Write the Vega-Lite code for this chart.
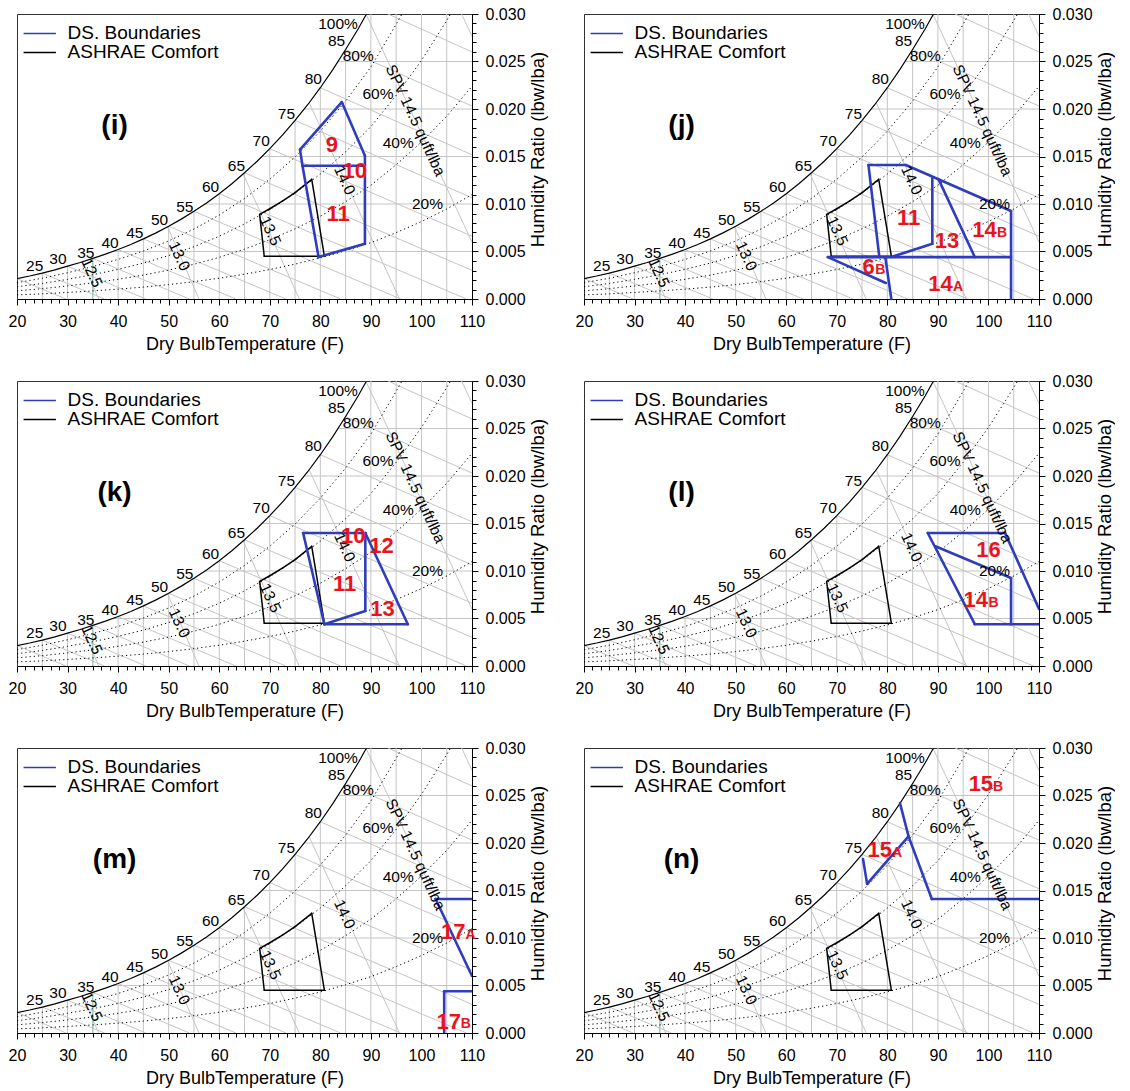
{
"$schema":"https://vega.github.io/schema/vega-lite/v6.json",
"padding":{"left":7,"top":5,"right":0,"bottom":0},
"config":{"font":"Liberation Sans","view":{"stroke":"#333","strokeWidth":1},
"axis":{"labelFontSize":16,"titleFontWeight":"normal","labelColor":"#000","titleColor":"#000","domainColor":"#000","tickColor":"#000","labelFont":"Liberation Sans","titleFont":"Liberation Sans","labelOverlap":false,"labelFlush":false},
"axisX":{"titleFontSize":18,"labelPadding":8,"titlePadding":6},
"axisY":{"titleFontSize":18.5,"labelPadding":7,"titlePadding":3}},
"datasets":{
"grid":[
{"T":25,"W":0,"T2":25,"W2":0.002731},{"T":30,"W":0,"T2":30,"W2":0.003454},{"T":40,"W":0,"T2":40,"W2":0.005213},{"T":45,"W":0,"T2":45,"W2":0.006328},{"T":50,"W":0,"T2":50,"W2":0.007658},{"T":55,"W":0,"T2":55,"W2":0.00923},{"T":60,"W":0,"T2":60,"W2":0.011087},{"T":65,"W":0,"T2":65,"W2":0.01329},{"T":70,"W":0,"T2":70,"W2":0.015832},{"T":75,"W":0,"T2":75,"W2":0.0188},{"T":80,"W":0,"T2":80,"W2":0.02224},{"T":85,"W":0,"T2":85,"W2":0.02626},{"T":90,"W":0,"T2":90,"W2":0.03},{"T":95,"W":0,"T2":95,"W2":0.03},{"T":100,"W":0,"T2":100,"W2":0.03},{"T":105,"W":0,"T2":105,"W2":0.03},
{"T":38.95,"W":0.005,"T2":110,"W2":0.005},{"T":57.19,"W":0.01,"T2":110,"W2":0.01},{"T":68.46,"W":0.015,"T2":110,"W2":0.015},{"T":76.84,"W":0.02,"T2":110,"W2":0.02},{"T":83.52,"W":0.025,"T2":110,"W2":0.025},
{"T":20,"W":0.002152,"T2":29.7,"W2":0},{"T":25,"W":0.002731,"T2":37.3,"W2":0},{"T":30,"W":0.003454,"T2":45.5,"W2":0},{"T":35,"W":0.004275,"T2":54.1,"W2":0},{"T":40,"W":0.005213,"T2":63.3,"W2":0},{"T":45,"W":0.006328,"T2":73.2,"W2":0},{"T":50,"W":0.007658,"T2":84.0,"W2":0},{"T":55,"W":0.00923,"T2":95.9,"W2":0},{"T":60,"W":0.011087,"T2":108.9,"W2":0},{"T":65,"W":0.01329,"T2":110,"W2":0.003014},{"T":70,"W":0.015832,"T2":110,"W2":0.006613},{"T":75,"W":0.0188,"T2":110,"W2":0.010652},{"T":80,"W":0.02224,"T2":110,"W2":0.01518},{"T":85,"W":0.02626,"T2":110,"W2":0.020306},{"T":93.4,"W":0.03,"T2":110,"W2":0.026006},
{"T":33.0,"W":0.00395,"T2":36.15,"W2":0},{"T":49.8,"W":0.00758,"T2":56.0,"W2":0},{"T":64.73,"W":0.01317,"T2":75.83,"W2":0},{"T":77.8,"W":0.02065,"T2":95.66,"W2":0},{"T":89.0,"W":0.03,"T2":110,"W2":0.00599},{"T":107.95,"W":0.03,"T2":110,"W2":0.02765}
],
"teal":[{"T":35,"W":0,"T2":35,"W2":0.004275}],
"sat":[{"T":20,"W":0.002152},{"T":22.5,"W":0.002424},{"T":25,"W":0.002731},{"T":27.5,"W":0.003071},{"T":30,"W":0.003454},{"T":32.5,"W":0.003843},{"T":35,"W":0.004275},{"T":37.5,"W":0.004721},{"T":40,"W":0.005213},{"T":42.5,"W":0.005743},{"T":45,"W":0.006328},{"T":47.5,"W":0.006961},{"T":50,"W":0.007658},{"T":52.5,"W":0.008407},{"T":55,"W":0.00923},{"T":57.5,"W":0.010116},{"T":60,"W":0.011087},{"T":62.5,"W":0.012139},{"T":65,"W":0.01329},{"T":67.5,"W":0.014505},{"T":70,"W":0.015832},{"T":72.5,"W":0.017252},{"T":75,"W":0.0188},{"T":77.5,"W":0.020448},{"T":80,"W":0.02224},{"T":82.5,"W":0.024167},{"T":85,"W":0.02626},{"T":87.5,"W":0.028453},{"T":89.13,"W":0.03}],
"rh":[
{"c":80,"T":20,"W":0.001721},{"c":80,"T":25,"W":0.002183},{"c":80,"T":30,"W":0.00276},{"c":80,"T":35,"W":0.003416},{"c":80,"T":40,"W":0.004164},{"c":80,"T":45,"W":0.005052},{"c":80,"T":50,"W":0.006111},{"c":80,"T":55,"W":0.007362},{"c":80,"T":60,"W":0.008838},{"c":80,"T":65,"W":0.010587},{"c":80,"T":70,"W":0.012601},{"c":80,"T":75,"W":0.01495},{"c":80,"T":80,"W":0.017666},{"c":80,"T":85,"W":0.020833},{"c":80,"T":90,"W":0.024422},{"c":80,"T":95,"W":0.028921},{"c":80,"T":96.15,"W":0.03},
{"c":60,"T":20,"W":0.001289},{"c":60,"T":25,"W":0.001636},{"c":60,"T":30,"W":0.002068},{"c":60,"T":35,"W":0.002558},{"c":60,"T":40,"W":0.003118},{"c":60,"T":45,"W":0.003782},{"c":60,"T":50,"W":0.004572},{"c":60,"T":55,"W":0.005505},{"c":60,"T":60,"W":0.006605},{"c":60,"T":65,"W":0.007907},{"c":60,"T":70,"W":0.009404},{"c":60,"T":75,"W":0.011145},{"c":60,"T":80,"W":0.013156},{"c":60,"T":85,"W":0.015495},{"c":60,"T":90,"W":0.018139},{"c":60,"T":95,"W":0.021442},{"c":60,"T":100,"W":0.025106},{"c":60,"T":105,"W":0.029309},{"c":60,"T":105.76,"W":0.03},
{"c":40,"T":20,"W":0.000859},{"c":40,"T":25,"W":0.001089},{"c":40,"T":30,"W":0.001377},{"c":40,"T":35,"W":0.001703},{"c":40,"T":40,"W":0.002075},{"c":40,"T":45,"W":0.002516},{"c":40,"T":50,"W":0.003041},{"c":40,"T":55,"W":0.003659},{"c":40,"T":60,"W":0.004388},{"c":40,"T":65,"W":0.005249},{"c":40,"T":70,"W":0.006238},{"c":40,"T":75,"W":0.007386},{"c":40,"T":80,"W":0.008709},{"c":40,"T":85,"W":0.010245},{"c":40,"T":90,"W":0.011976},{"c":40,"T":95,"W":0.014132},{"c":40,"T":100,"W":0.016516},{"c":40,"T":105,"W":0.019237},{"c":40,"T":110,"W":0.022385},
{"c":20,"T":20,"W":0.000429},{"c":20,"T":25,"W":0.000544},{"c":20,"T":30,"W":0.000688},{"c":20,"T":35,"W":0.00085},{"c":20,"T":40,"W":0.001036},{"c":20,"T":45,"W":0.001255},{"c":20,"T":50,"W":0.001517},{"c":20,"T":55,"W":0.001824},{"c":20,"T":60,"W":0.002186},{"c":20,"T":65,"W":0.002613},{"c":20,"T":70,"W":0.003103},{"c":20,"T":75,"W":0.003671},{"c":20,"T":80,"W":0.004324},{"c":20,"T":85,"W":0.005081},{"c":20,"T":90,"W":0.005931},{"c":20,"T":95,"W":0.006987},{"c":20,"T":100,"W":0.00815},{"c":20,"T":105,"W":0.009472},{"c":20,"T":110,"W":0.010995}
],
"comfort":[{"T":68.0,"W":0.0089,"T2":68.9,"W2":0.0045},{"T":68.9,"W":0.0045,"T2":80.8,"W2":0.0045},{"T":80.8,"W":0.0045,"T2":78.3,"W2":0.0126},{"T":78.3,"W":0.0126,"T2":75,"W2":0.0112},{"T":75,"W":0.0112,"T2":72.5,"W2":0.0103},{"T":72.5,"W":0.0103,"T2":70,"W2":0.0095},{"T":70,"W":0.0095,"T2":68.0,"W2":0.0089}],
"lab":[{"t":"25","T":23.5,"W":0.00345},{"t":"30","T":28.1,"W":0.00416},{"t":"35","T":33.6,"W":0.00479},{"t":"40","T":38.4,"W":0.00585},{"t":"45","T":43.3,"W":0.00698},{"t":"50","T":48.2,"W":0.00828},{"t":"55","T":53.2,"W":0.00973},{"t":"60","T":58.3,"W":0.01174},{"t":"65","T":63.4,"W":0.01403},{"t":"70","T":68.3,"W":0.01666},{"t":"75","T":73.3,"W":0.01947},{"t":"80","T":78.6,"W":0.02316},{"t":"85","T":83.2,"W":0.0272},{"t":"100%","T":83.5,"W":0.02895},{"t":"80%","T":87.5,"W":0.0256},{"t":"60%","T":91.4,"W":0.02158},{"t":"40%","T":95.4,"W":0.01638},{"t":"20%","T":101.2,"W":0.00998}],
"vlab":[{"t":"12.5","T":34.8,"W":0.00275},{"t":"13.0","T":52.1,"W":0.00451},{"t":"13.5","T":70.1,"W":0.00716},{"t":"14.0","T":84.8,"W":0.0125},{"t":"SPV 14.5 quft/lba","T":98.8,"W":0.0188}],
"legl":[{"s":"DS. Boundaries","T":21.3,"T2":27.7,"W":0.02796},{"s":"ASHRAE Comfort","T":21.3,"T2":27.7,"W":0.02596}],
"legt":[{"t":"DS. Boundaries","T":30.0,"W":0.02796},{"t":"ASHRAE Comfort","T":30.0,"W":0.02596}],
"bi":[{"T":76.47,"W":0.01403,"T2":75.98,"W2":0.01572},{"T":75.98,"W":0.01572,"T2":84.24,"W2":0.02073},{"T":84.24,"W":0.02073,"T2":88.82,"W2":0.01509},{"T":88.82,"W":0.01509,"T2":88.82,"W2":0.00582},{"T":88.82,"W":0.00582,"T2":79.65,"W2":0.00441},{"T":79.65,"W":0.00441,"T2":76.47,"W2":0.01403},{"T":76.47,"W":0.01403,"T2":88.82,"W2":0.01403}],
"bj":[{"T":76.27,"W":0.0141,"T2":83.66,"W2":0.0141},{"T":83.66,"W":0.0141,"T2":104.47,"W2":0.00927},{"T":104.47,"W":0.00927,"T2":104.47,"W2":0},{"T":76.27,"W":0.0141,"T2":78.42,"W2":0.00441},{"T":68.23,"W":0.00441,"T2":104.47,"W2":0.00441},{"T":68.23,"W":0.00441,"T2":79.71,"W2":0.00169},{"T":79.6,"W":0.00441,"T2":80.79,"W2":0},{"T":80.79,"W":0.00441,"T2":88.9,"W2":0.00582},{"T":88.9,"W":0.00582,"T2":88.9,"W2":0.01273},{"T":90.12,"W":0.01262,"T2":97.3,"W2":0.00441}],
"bk":[{"T":76.6,"W":0.014,"T2":88.9,"W2":0.014},{"T":88.9,"W":0.014,"T2":97.3,"W2":0.0044},{"T":97.3,"W":0.0044,"T2":80.8,"W2":0.0044},{"T":80.8,"W":0.0044,"T2":76.6,"W2":0.014},{"T":88.9,"W":0.014,"T2":88.9,"W2":0.0058},{"T":80.8,"W":0.0044,"T2":88.9,"W2":0.0058}],
"bl":[{"T":88.0,"W":0.014,"T2":103.3,"W2":0.014},{"T":103.3,"W":0.014,"T2":110,"W2":0.006},{"T":88.0,"W":0.014,"T2":97.3,"W2":0.0044},{"T":97.3,"W":0.0044,"T2":110,"W2":0.0044},{"T":104.47,"W":0.0044,"T2":104.47,"W2":0.00927},{"T":89.5,"W":0.0126,"T2":104.47,"W2":0.00927}],
"bm":[{"T":102.8,"W":0.0141,"T2":110,"W2":0.0141},{"T":102.8,"W":0.0141,"T2":110,"W2":0.006},{"T":104.5,"W":0.0044,"T2":110,"W2":0.0044},{"T":104.5,"W":0.0044,"T2":104.5,"W2":0}],
"bn":[{"T":76.0,"W":0.0157,"T2":75.2,"W2":0.0183},{"T":76.0,"W":0.0157,"T2":84.2,"W2":0.0207},{"T":84.2,"W":0.0207,"T2":82.5,"W2":0.0242},{"T":84.2,"W":0.0207,"T2":88.8,"W2":0.0141},{"T":88.8,"W":0.0141,"T2":110,"W2":0.0141}],
"ri":[{"t":"9","T":82.3,"W":0.0162},{"t":"10","T":86.8,"W":0.0135},{"t":"11","T":83.5,"W":0.0089}],
"rj":[{"t":"11","T":84.2,"W":0.00857},{"t":"13","T":91.8,"W":0.0061},{"t":"14","T":99.2,"W":0.00723},{"t":"6","T":76.3,"W":0.0034},{"t":"14","T":90.5,"W":0.0016}],
"sj":[{"t":"B","T":102.7,"W":0.0069},{"t":"B","T":78.6,"W":0.0031},{"t":"A","T":94.0,"W":0.0013}],
"rk":[{"t":"10","T":86.5,"W":0.0137},{"t":"12","T":92.1,"W":0.0126},{"t":"11","T":84.8,"W":0.0086},{"t":"13","T":92.3,"W":0.006}],
"rl":[{"t":"16","T":100,"W":0.0122},{"t":"14","T":97.5,"W":0.0069}],
"sl":[{"t":"B","T":101.0,"W":0.0066}],
"rm":[{"t":"17","T":106.3,"W":0.0106},{"t":"17","T":105.4,"W":0.0012}],
"sm":[{"t":"A","T":109.7,"W":0.0103},{"t":"B","T":108.8,"W":0.0009}],
"rn":[{"t":"15","T":78.5,"W":0.0193},{"t":"15","T":98.5,"W":0.0262}],
"sn":[{"t":"A","T":81.9,"W":0.019},{"t":"B","T":101.9,"W":0.0259}]
},
"vconcat":[
{"hconcat":[
{"width":455,"height":285,
"encoding":{"x":{"field":"T","type":"quantitative","scale":{"domain":[20,110],"nice":false,"zero":false},"axis":{"title":"Dry BulbTemperature (F)","grid":false,"values":[20,21.667,23.333,25,26.667,28.333,30,31.667,33.333,35,36.667,38.333,40,41.667,43.333,45,46.667,48.333,50,51.667,53.333,55,56.667,58.333,60,61.667,63.333,65,66.667,68.333,70,71.667,73.333,75,76.667,78.333,80,81.667,83.333,85,86.667,88.333,90,91.667,93.333,95,96.667,98.333,100,101.667,103.333,105,106.667,108.333,110],"labelExpr":"abs(datum.value % 10) < 0.01 ? datum.value : ''","tickSize":{"condition":{"test":"abs(datum.value % 10) < 0.01","value":6},"value":4}}},
"y":{"field":"W","type":"quantitative","scale":{"domain":[0,0.03],"nice":false,"zero":false},"axis":{"title":"Humidity Ratio (lbw/lba)","orient":"right","titleAngle":270,"titleBaseline":"top","titleY":135,"grid":false,"values":[0,0.001,0.002,0.003,0.004,0.005,0.006,0.007,0.008,0.009,0.01,0.011,0.012,0.013,0.014,0.015,0.016,0.017,0.018,0.019,0.02,0.021,0.022,0.023,0.024,0.025,0.026,0.027,0.028,0.029,0.03],"labelExpr":"round(datum.value*1000) % 5 == 0 ? format(datum.value, '.3f') : ''","tickSize":{"condition":{"test":"round(datum.value*1000) % 5 == 0","value":6},"value":4}}}},
"layer":[
{"data":{"name":"grid"},"mark":{"type":"rule","color":"#c4c4c4","strokeWidth":1,"clip":true},"encoding":{"x2":{"field":"T2"},"y2":{"field":"W2"}}},
{"data":{"name":"teal"},"mark":{"type":"rule","color":"#86bfae","strokeWidth":1.2,"clip":true},"encoding":{"x2":{"field":"T2"},"y2":{"field":"W2"}}},
{"data":{"name":"rh"},"mark":{"type":"line","color":"#000","strokeWidth":1,"strokeDash":[1.2,3],"clip":true},"encoding":{"detail":{"field":"c","type":"nominal"}}},
{"data":{"name":"sat"},"mark":{"type":"line","color":"#000","strokeWidth":1.2,"clip":true},"encoding":{}},
{"data":{"name":"comfort"},"mark":{"type":"rule","color":"#000","strokeWidth":1.5,"strokeCap":"round"},"encoding":{"x2":{"field":"T2"},"y2":{"field":"W2"}}},
{"data":{"name":"bi"},"mark":{"type":"rule","color":"#2f3dbd","strokeWidth":2.6,"strokeCap":"round"},"encoding":{"x2":{"field":"T2"},"y2":{"field":"W2"}}},
{"data":{"name":"lab"},"mark":{"type":"text","fontSize":15.5,"color":"#000"},"encoding":{"text":{"field":"t","type":"nominal"}}},
{"data":{"name":"vlab"},"mark":{"type":"text","fontSize":15.5,"angle":65,"color":"#000"},"encoding":{"text":{"field":"t","type":"nominal"}}},
{"data":{"name":"legl"},"mark":{"type":"rule","strokeWidth":1.5},"encoding":{"x2":{"field":"T2"},"color":{"field":"s","type":"nominal","scale":{"domain":["DS. Boundaries","ASHRAE Comfort"],"range":["#2f3dbd","#000000"]},"legend":null}}},
{"data":{"name":"legt"},"mark":{"type":"text","fontSize":19,"align":"left","color":"#000"},"encoding":{"text":{"field":"t","type":"nominal"}}},
{"data":{"values":[{"t":"(i)","T":39.3,"W":0.0182}]},"mark":{"type":"text","fontSize":28,"fontWeight":"bold","color":"#000"},"encoding":{"text":{"field":"t","type":"nominal"}}},
{"data":{"name":"ri"},"mark":{"type":"text","fontSize":22,"fontWeight":"bold","color":"#e8141c"},"encoding":{"text":{"field":"t","type":"nominal"}}}
]},
{"width":455,"height":285,
"encoding":{"x":{"field":"T","type":"quantitative","scale":{"domain":[20,110],"nice":false,"zero":false},"axis":{"title":"Dry BulbTemperature (F)","grid":false,"values":[20,21.667,23.333,25,26.667,28.333,30,31.667,33.333,35,36.667,38.333,40,41.667,43.333,45,46.667,48.333,50,51.667,53.333,55,56.667,58.333,60,61.667,63.333,65,66.667,68.333,70,71.667,73.333,75,76.667,78.333,80,81.667,83.333,85,86.667,88.333,90,91.667,93.333,95,96.667,98.333,100,101.667,103.333,105,106.667,108.333,110],"labelExpr":"abs(datum.value % 10) < 0.01 ? datum.value : ''","tickSize":{"condition":{"test":"abs(datum.value % 10) < 0.01","value":6},"value":4}}},
"y":{"field":"W","type":"quantitative","scale":{"domain":[0,0.03],"nice":false,"zero":false},"axis":{"title":"Humidity Ratio (lbw/lba)","orient":"right","titleAngle":270,"titleBaseline":"top","titleY":135,"grid":false,"values":[0,0.001,0.002,0.003,0.004,0.005,0.006,0.007,0.008,0.009,0.01,0.011,0.012,0.013,0.014,0.015,0.016,0.017,0.018,0.019,0.02,0.021,0.022,0.023,0.024,0.025,0.026,0.027,0.028,0.029,0.03],"labelExpr":"round(datum.value*1000) % 5 == 0 ? format(datum.value, '.3f') : ''","tickSize":{"condition":{"test":"round(datum.value*1000) % 5 == 0","value":6},"value":4}}}},
"layer":[
{"data":{"name":"grid"},"mark":{"type":"rule","color":"#c4c4c4","strokeWidth":1,"clip":true},"encoding":{"x2":{"field":"T2"},"y2":{"field":"W2"}}},
{"data":{"name":"teal"},"mark":{"type":"rule","color":"#86bfae","strokeWidth":1.2,"clip":true},"encoding":{"x2":{"field":"T2"},"y2":{"field":"W2"}}},
{"data":{"name":"rh"},"mark":{"type":"line","color":"#000","strokeWidth":1,"strokeDash":[1.2,3],"clip":true},"encoding":{"detail":{"field":"c","type":"nominal"}}},
{"data":{"name":"sat"},"mark":{"type":"line","color":"#000","strokeWidth":1.2,"clip":true},"encoding":{}},
{"data":{"name":"comfort"},"mark":{"type":"rule","color":"#000","strokeWidth":1.5,"strokeCap":"round"},"encoding":{"x2":{"field":"T2"},"y2":{"field":"W2"}}},
{"data":{"name":"bj"},"mark":{"type":"rule","color":"#2f3dbd","strokeWidth":2.6,"strokeCap":"round"},"encoding":{"x2":{"field":"T2"},"y2":{"field":"W2"}}},
{"data":{"name":"lab"},"mark":{"type":"text","fontSize":15.5,"color":"#000"},"encoding":{"text":{"field":"t","type":"nominal"}}},
{"data":{"name":"vlab"},"mark":{"type":"text","fontSize":15.5,"angle":65,"color":"#000"},"encoding":{"text":{"field":"t","type":"nominal"}}},
{"data":{"name":"legl"},"mark":{"type":"rule","strokeWidth":1.5},"encoding":{"x2":{"field":"T2"},"color":{"field":"s","type":"nominal","scale":{"domain":["DS. Boundaries","ASHRAE Comfort"],"range":["#2f3dbd","#000000"]},"legend":null}}},
{"data":{"name":"legt"},"mark":{"type":"text","fontSize":19,"align":"left","color":"#000"},"encoding":{"text":{"field":"t","type":"nominal"}}},
{"data":{"values":[{"t":"(j)","T":39.3,"W":0.0182}]},"mark":{"type":"text","fontSize":28,"fontWeight":"bold","color":"#000"},"encoding":{"text":{"field":"t","type":"nominal"}}},
{"data":{"name":"rj"},"mark":{"type":"text","fontSize":22,"fontWeight":"bold","color":"#e8141c"},"encoding":{"text":{"field":"t","type":"nominal"}}},
{"data":{"name":"sj"},"mark":{"type":"text","fontSize":14,"fontWeight":"bold","color":"#e8141c"},"encoding":{"text":{"field":"t","type":"nominal"}}}
]}
],"spacing":26},
{"hconcat":[
{"width":455,"height":285,
"encoding":{"x":{"field":"T","type":"quantitative","scale":{"domain":[20,110],"nice":false,"zero":false},"axis":{"title":"Dry BulbTemperature (F)","grid":false,"values":[20,21.667,23.333,25,26.667,28.333,30,31.667,33.333,35,36.667,38.333,40,41.667,43.333,45,46.667,48.333,50,51.667,53.333,55,56.667,58.333,60,61.667,63.333,65,66.667,68.333,70,71.667,73.333,75,76.667,78.333,80,81.667,83.333,85,86.667,88.333,90,91.667,93.333,95,96.667,98.333,100,101.667,103.333,105,106.667,108.333,110],"labelExpr":"abs(datum.value % 10) < 0.01 ? datum.value : ''","tickSize":{"condition":{"test":"abs(datum.value % 10) < 0.01","value":6},"value":4}}},
"y":{"field":"W","type":"quantitative","scale":{"domain":[0,0.03],"nice":false,"zero":false},"axis":{"title":"Humidity Ratio (lbw/lba)","orient":"right","titleAngle":270,"titleBaseline":"top","titleY":135,"grid":false,"values":[0,0.001,0.002,0.003,0.004,0.005,0.006,0.007,0.008,0.009,0.01,0.011,0.012,0.013,0.014,0.015,0.016,0.017,0.018,0.019,0.02,0.021,0.022,0.023,0.024,0.025,0.026,0.027,0.028,0.029,0.03],"labelExpr":"round(datum.value*1000) % 5 == 0 ? format(datum.value, '.3f') : ''","tickSize":{"condition":{"test":"round(datum.value*1000) % 5 == 0","value":6},"value":4}}}},
"layer":[
{"data":{"name":"grid"},"mark":{"type":"rule","color":"#c4c4c4","strokeWidth":1,"clip":true},"encoding":{"x2":{"field":"T2"},"y2":{"field":"W2"}}},
{"data":{"name":"teal"},"mark":{"type":"rule","color":"#86bfae","strokeWidth":1.2,"clip":true},"encoding":{"x2":{"field":"T2"},"y2":{"field":"W2"}}},
{"data":{"name":"rh"},"mark":{"type":"line","color":"#000","strokeWidth":1,"strokeDash":[1.2,3],"clip":true},"encoding":{"detail":{"field":"c","type":"nominal"}}},
{"data":{"name":"sat"},"mark":{"type":"line","color":"#000","strokeWidth":1.2,"clip":true},"encoding":{}},
{"data":{"name":"comfort"},"mark":{"type":"rule","color":"#000","strokeWidth":1.5,"strokeCap":"round"},"encoding":{"x2":{"field":"T2"},"y2":{"field":"W2"}}},
{"data":{"name":"bk"},"mark":{"type":"rule","color":"#2f3dbd","strokeWidth":2.6,"strokeCap":"round"},"encoding":{"x2":{"field":"T2"},"y2":{"field":"W2"}}},
{"data":{"name":"lab"},"mark":{"type":"text","fontSize":15.5,"color":"#000"},"encoding":{"text":{"field":"t","type":"nominal"}}},
{"data":{"name":"vlab"},"mark":{"type":"text","fontSize":15.5,"angle":65,"color":"#000"},"encoding":{"text":{"field":"t","type":"nominal"}}},
{"data":{"name":"legl"},"mark":{"type":"rule","strokeWidth":1.5},"encoding":{"x2":{"field":"T2"},"color":{"field":"s","type":"nominal","scale":{"domain":["DS. Boundaries","ASHRAE Comfort"],"range":["#2f3dbd","#000000"]},"legend":null}}},
{"data":{"name":"legt"},"mark":{"type":"text","fontSize":19,"align":"left","color":"#000"},"encoding":{"text":{"field":"t","type":"nominal"}}},
{"data":{"values":[{"t":"(k)","T":39.3,"W":0.0182}]},"mark":{"type":"text","fontSize":28,"fontWeight":"bold","color":"#000"},"encoding":{"text":{"field":"t","type":"nominal"}}},
{"data":{"name":"rk"},"mark":{"type":"text","fontSize":22,"fontWeight":"bold","color":"#e8141c"},"encoding":{"text":{"field":"t","type":"nominal"}}}
]},
{"width":455,"height":285,
"encoding":{"x":{"field":"T","type":"quantitative","scale":{"domain":[20,110],"nice":false,"zero":false},"axis":{"title":"Dry BulbTemperature (F)","grid":false,"values":[20,21.667,23.333,25,26.667,28.333,30,31.667,33.333,35,36.667,38.333,40,41.667,43.333,45,46.667,48.333,50,51.667,53.333,55,56.667,58.333,60,61.667,63.333,65,66.667,68.333,70,71.667,73.333,75,76.667,78.333,80,81.667,83.333,85,86.667,88.333,90,91.667,93.333,95,96.667,98.333,100,101.667,103.333,105,106.667,108.333,110],"labelExpr":"abs(datum.value % 10) < 0.01 ? datum.value : ''","tickSize":{"condition":{"test":"abs(datum.value % 10) < 0.01","value":6},"value":4}}},
"y":{"field":"W","type":"quantitative","scale":{"domain":[0,0.03],"nice":false,"zero":false},"axis":{"title":"Humidity Ratio (lbw/lba)","orient":"right","titleAngle":270,"titleBaseline":"top","titleY":135,"grid":false,"values":[0,0.001,0.002,0.003,0.004,0.005,0.006,0.007,0.008,0.009,0.01,0.011,0.012,0.013,0.014,0.015,0.016,0.017,0.018,0.019,0.02,0.021,0.022,0.023,0.024,0.025,0.026,0.027,0.028,0.029,0.03],"labelExpr":"round(datum.value*1000) % 5 == 0 ? format(datum.value, '.3f') : ''","tickSize":{"condition":{"test":"round(datum.value*1000) % 5 == 0","value":6},"value":4}}}},
"layer":[
{"data":{"name":"grid"},"mark":{"type":"rule","color":"#c4c4c4","strokeWidth":1,"clip":true},"encoding":{"x2":{"field":"T2"},"y2":{"field":"W2"}}},
{"data":{"name":"teal"},"mark":{"type":"rule","color":"#86bfae","strokeWidth":1.2,"clip":true},"encoding":{"x2":{"field":"T2"},"y2":{"field":"W2"}}},
{"data":{"name":"rh"},"mark":{"type":"line","color":"#000","strokeWidth":1,"strokeDash":[1.2,3],"clip":true},"encoding":{"detail":{"field":"c","type":"nominal"}}},
{"data":{"name":"sat"},"mark":{"type":"line","color":"#000","strokeWidth":1.2,"clip":true},"encoding":{}},
{"data":{"name":"comfort"},"mark":{"type":"rule","color":"#000","strokeWidth":1.5,"strokeCap":"round"},"encoding":{"x2":{"field":"T2"},"y2":{"field":"W2"}}},
{"data":{"name":"bl"},"mark":{"type":"rule","color":"#2f3dbd","strokeWidth":2.6,"strokeCap":"round","clip":true},"encoding":{"x2":{"field":"T2"},"y2":{"field":"W2"}}},
{"data":{"name":"lab"},"mark":{"type":"text","fontSize":15.5,"color":"#000"},"encoding":{"text":{"field":"t","type":"nominal"}}},
{"data":{"name":"vlab"},"mark":{"type":"text","fontSize":15.5,"angle":65,"color":"#000"},"encoding":{"text":{"field":"t","type":"nominal"}}},
{"data":{"name":"legl"},"mark":{"type":"rule","strokeWidth":1.5},"encoding":{"x2":{"field":"T2"},"color":{"field":"s","type":"nominal","scale":{"domain":["DS. Boundaries","ASHRAE Comfort"],"range":["#2f3dbd","#000000"]},"legend":null}}},
{"data":{"name":"legt"},"mark":{"type":"text","fontSize":19,"align":"left","color":"#000"},"encoding":{"text":{"field":"t","type":"nominal"}}},
{"data":{"values":[{"t":"(l)","T":39.3,"W":0.0182}]},"mark":{"type":"text","fontSize":28,"fontWeight":"bold","color":"#000"},"encoding":{"text":{"field":"t","type":"nominal"}}},
{"data":{"name":"rl"},"mark":{"type":"text","fontSize":22,"fontWeight":"bold","color":"#e8141c"},"encoding":{"text":{"field":"t","type":"nominal"}}},
{"data":{"name":"sl"},"mark":{"type":"text","fontSize":14,"fontWeight":"bold","color":"#e8141c"},"encoding":{"text":{"field":"t","type":"nominal"}}}
]}
],"spacing":26},
{"hconcat":[
{"width":455,"height":285,
"encoding":{"x":{"field":"T","type":"quantitative","scale":{"domain":[20,110],"nice":false,"zero":false},"axis":{"title":"Dry BulbTemperature (F)","grid":false,"values":[20,21.667,23.333,25,26.667,28.333,30,31.667,33.333,35,36.667,38.333,40,41.667,43.333,45,46.667,48.333,50,51.667,53.333,55,56.667,58.333,60,61.667,63.333,65,66.667,68.333,70,71.667,73.333,75,76.667,78.333,80,81.667,83.333,85,86.667,88.333,90,91.667,93.333,95,96.667,98.333,100,101.667,103.333,105,106.667,108.333,110],"labelExpr":"abs(datum.value % 10) < 0.01 ? datum.value : ''","tickSize":{"condition":{"test":"abs(datum.value % 10) < 0.01","value":6},"value":4}}},
"y":{"field":"W","type":"quantitative","scale":{"domain":[0,0.03],"nice":false,"zero":false},"axis":{"title":"Humidity Ratio (lbw/lba)","orient":"right","titleAngle":270,"titleBaseline":"top","titleY":135,"grid":false,"values":[0,0.001,0.002,0.003,0.004,0.005,0.006,0.007,0.008,0.009,0.01,0.011,0.012,0.013,0.014,0.015,0.016,0.017,0.018,0.019,0.02,0.021,0.022,0.023,0.024,0.025,0.026,0.027,0.028,0.029,0.03],"labelExpr":"round(datum.value*1000) % 5 == 0 ? format(datum.value, '.3f') : ''","tickSize":{"condition":{"test":"round(datum.value*1000) % 5 == 0","value":6},"value":4}}}},
"layer":[
{"data":{"name":"grid"},"mark":{"type":"rule","color":"#c4c4c4","strokeWidth":1,"clip":true},"encoding":{"x2":{"field":"T2"},"y2":{"field":"W2"}}},
{"data":{"name":"teal"},"mark":{"type":"rule","color":"#86bfae","strokeWidth":1.2,"clip":true},"encoding":{"x2":{"field":"T2"},"y2":{"field":"W2"}}},
{"data":{"name":"rh"},"mark":{"type":"line","color":"#000","strokeWidth":1,"strokeDash":[1.2,3],"clip":true},"encoding":{"detail":{"field":"c","type":"nominal"}}},
{"data":{"name":"sat"},"mark":{"type":"line","color":"#000","strokeWidth":1.2,"clip":true},"encoding":{}},
{"data":{"name":"comfort"},"mark":{"type":"rule","color":"#000","strokeWidth":1.5,"strokeCap":"round"},"encoding":{"x2":{"field":"T2"},"y2":{"field":"W2"}}},
{"data":{"name":"bm"},"mark":{"type":"rule","color":"#2f3dbd","strokeWidth":2.6,"strokeCap":"round","clip":true},"encoding":{"x2":{"field":"T2"},"y2":{"field":"W2"}}},
{"data":{"name":"lab"},"mark":{"type":"text","fontSize":15.5,"color":"#000"},"encoding":{"text":{"field":"t","type":"nominal"}}},
{"data":{"name":"vlab"},"mark":{"type":"text","fontSize":15.5,"angle":65,"color":"#000"},"encoding":{"text":{"field":"t","type":"nominal"}}},
{"data":{"name":"legl"},"mark":{"type":"rule","strokeWidth":1.5},"encoding":{"x2":{"field":"T2"},"color":{"field":"s","type":"nominal","scale":{"domain":["DS. Boundaries","ASHRAE Comfort"],"range":["#2f3dbd","#000000"]},"legend":null}}},
{"data":{"name":"legt"},"mark":{"type":"text","fontSize":19,"align":"left","color":"#000"},"encoding":{"text":{"field":"t","type":"nominal"}}},
{"data":{"values":[{"t":"(m)","T":39.3,"W":0.0182}]},"mark":{"type":"text","fontSize":28,"fontWeight":"bold","color":"#000"},"encoding":{"text":{"field":"t","type":"nominal"}}},
{"data":{"name":"rm"},"mark":{"type":"text","fontSize":22,"fontWeight":"bold","color":"#e8141c"},"encoding":{"text":{"field":"t","type":"nominal"}}},
{"data":{"name":"sm"},"mark":{"type":"text","fontSize":14,"fontWeight":"bold","color":"#e8141c"},"encoding":{"text":{"field":"t","type":"nominal"}}}
]},
{"width":455,"height":285,
"encoding":{"x":{"field":"T","type":"quantitative","scale":{"domain":[20,110],"nice":false,"zero":false},"axis":{"title":"Dry BulbTemperature (F)","grid":false,"values":[20,21.667,23.333,25,26.667,28.333,30,31.667,33.333,35,36.667,38.333,40,41.667,43.333,45,46.667,48.333,50,51.667,53.333,55,56.667,58.333,60,61.667,63.333,65,66.667,68.333,70,71.667,73.333,75,76.667,78.333,80,81.667,83.333,85,86.667,88.333,90,91.667,93.333,95,96.667,98.333,100,101.667,103.333,105,106.667,108.333,110],"labelExpr":"abs(datum.value % 10) < 0.01 ? datum.value : ''","tickSize":{"condition":{"test":"abs(datum.value % 10) < 0.01","value":6},"value":4}}},
"y":{"field":"W","type":"quantitative","scale":{"domain":[0,0.03],"nice":false,"zero":false},"axis":{"title":"Humidity Ratio (lbw/lba)","orient":"right","titleAngle":270,"titleBaseline":"top","titleY":135,"grid":false,"values":[0,0.001,0.002,0.003,0.004,0.005,0.006,0.007,0.008,0.009,0.01,0.011,0.012,0.013,0.014,0.015,0.016,0.017,0.018,0.019,0.02,0.021,0.022,0.023,0.024,0.025,0.026,0.027,0.028,0.029,0.03],"labelExpr":"round(datum.value*1000) % 5 == 0 ? format(datum.value, '.3f') : ''","tickSize":{"condition":{"test":"round(datum.value*1000) % 5 == 0","value":6},"value":4}}}},
"layer":[
{"data":{"name":"grid"},"mark":{"type":"rule","color":"#c4c4c4","strokeWidth":1,"clip":true},"encoding":{"x2":{"field":"T2"},"y2":{"field":"W2"}}},
{"data":{"name":"teal"},"mark":{"type":"rule","color":"#86bfae","strokeWidth":1.2,"clip":true},"encoding":{"x2":{"field":"T2"},"y2":{"field":"W2"}}},
{"data":{"name":"rh"},"mark":{"type":"line","color":"#000","strokeWidth":1,"strokeDash":[1.2,3],"clip":true},"encoding":{"detail":{"field":"c","type":"nominal"}}},
{"data":{"name":"sat"},"mark":{"type":"line","color":"#000","strokeWidth":1.2,"clip":true},"encoding":{}},
{"data":{"name":"comfort"},"mark":{"type":"rule","color":"#000","strokeWidth":1.5,"strokeCap":"round"},"encoding":{"x2":{"field":"T2"},"y2":{"field":"W2"}}},
{"data":{"name":"bn"},"mark":{"type":"rule","color":"#2f3dbd","strokeWidth":2.6,"strokeCap":"round","clip":true},"encoding":{"x2":{"field":"T2"},"y2":{"field":"W2"}}},
{"data":{"name":"lab"},"mark":{"type":"text","fontSize":15.5,"color":"#000"},"encoding":{"text":{"field":"t","type":"nominal"}}},
{"data":{"name":"vlab"},"mark":{"type":"text","fontSize":15.5,"angle":65,"color":"#000"},"encoding":{"text":{"field":"t","type":"nominal"}}},
{"data":{"name":"legl"},"mark":{"type":"rule","strokeWidth":1.5},"encoding":{"x2":{"field":"T2"},"color":{"field":"s","type":"nominal","scale":{"domain":["DS. Boundaries","ASHRAE Comfort"],"range":["#2f3dbd","#000000"]},"legend":null}}},
{"data":{"name":"legt"},"mark":{"type":"text","fontSize":19,"align":"left","color":"#000"},"encoding":{"text":{"field":"t","type":"nominal"}}},
{"data":{"values":[{"t":"(n)","T":39.3,"W":0.0182}]},"mark":{"type":"text","fontSize":28,"fontWeight":"bold","color":"#000"},"encoding":{"text":{"field":"t","type":"nominal"}}},
{"data":{"name":"rn"},"mark":{"type":"text","fontSize":22,"fontWeight":"bold","color":"#e8141c"},"encoding":{"text":{"field":"t","type":"nominal"}}},
{"data":{"name":"sn"},"mark":{"type":"text","fontSize":14,"fontWeight":"bold","color":"#e8141c"},"encoding":{"text":{"field":"t","type":"nominal"}}}
]}
],"spacing":26}
],
"spacing":18
}
